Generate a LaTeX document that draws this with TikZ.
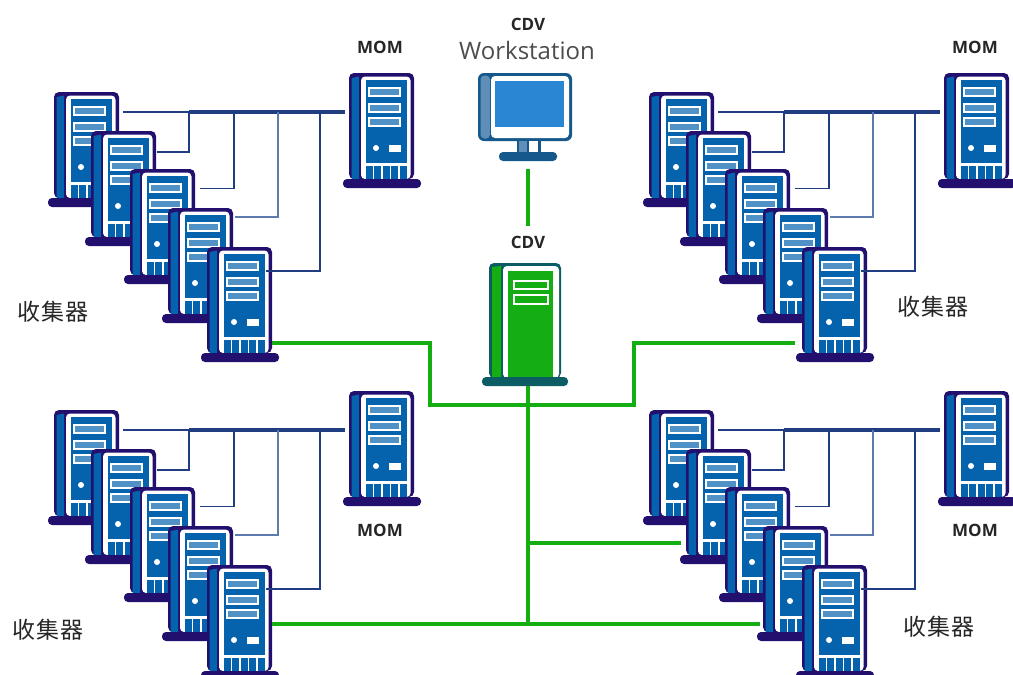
\documentclass[tikz,border=0pt]{standalone}
\usepackage{fontspec}
\setmainfont{Open Sans}
\newfontfamily\cjk[LetterSpace=6]{Noto Sans CJK SC}
\definecolor{srvnavy}{HTML}{230F6E}
\definecolor{srvblue}{HTML}{0562AD}
\definecolor{wirenavy}{HTML}{1F3D80}
\definecolor{wirepale}{HTML}{5F7AAC}
\definecolor{linkgreen}{HTML}{14AE14}
\definecolor{cdvdark}{HTML}{0B5C63}
\definecolor{monedge}{HTML}{15598C}
\definecolor{monside}{HTML}{5F8FB8}
\definecolor{monscreen}{HTML}{2A86D2}
\tikzset{
	busline/.style={draw=wirenavy,line width=3.2pt},
	tapline/.style={draw=wirenavy,line width=1.9pt},
	linkline/.style={draw=linkgreen,line width=3.2pt},
	momlabel/.style={font=\fontsize{17}{17}\selectfont\bfseries,text=black!85},
	collabel/.style={font=\cjk\fontsize{23}{23}\selectfont,text=black!85},
	serverbox/.pic={
		\fill[srvnavy,rounded corners=5pt] (0,106) -- (0,0) -- (65,0) -- (65,106) -- cycle;
		\fill[srvblue] (2.5,106) -- (2.5,5) -- (10,3.5) -- (10,106) -- cycle;
		\fill[white,rounded corners=4pt] (12,106) -- (12,3.5) -- (61.5,3.5) -- (61.5,106) -- cycle;
		\fill[srvblue] (16.5,7) rectangle (58,90);
		\foreach \yy/\hh in {15/8,31/8,45/8}
			\draw[white,line width=2pt,fill=srvblue!70!white] (20,\yy) rectangle ++(31,\hh);
		\fill[white] (27,75) circle (3);
		\fill[white] (40,72) rectangle (52,79);
		\foreach \xx in {16.5,25,33.5,42,50.5}
			\fill[srvblue] (\xx,93) rectangle ++(7,13);
		\fill[srvnavy,rounded corners=4pt] (-6,106) rectangle (72,115);
	}
}

\begin{document}
\begin{tikzpicture}[x=1pt,y=-1pt]
	\useasboundingbox (0,0) rectangle (1013,675);
	\clip (0,0) rectangle (1013,675);
	\foreach \gx/\gy/\gn in {0/0/a,595/0/b,0/318/c,595/318/d}{
		\begin{scope}[shift={(\gx,\gy)}]
			\pic at (54,92) {serverbox};
			\pic at (91,131) {serverbox};
			\pic at (130,169) {serverbox};
			\pic at (168,208) {serverbox};
			\pic at (207,247) {serverbox};
			\pic at (349,73) {serverbox};
			\coordinate (\gn bus0) at (123,112);
			\coordinate (\gn bus1) at (189,112);
			\coordinate (\gn bus2) at (234,112);
			\coordinate (\gn bus3) at (278,112);
			\coordinate (\gn bus4) at (320,112);
			\coordinate (\gn mom) at (345,112);
			\coordinate (\gn s2) at (157,152);
			\coordinate (\gn s3) at (200,188.5);
			\coordinate (\gn s4) at (235,217);
			\coordinate (\gn s5) at (266,271);
			\draw[tapline] (\gn bus0) -- (\gn bus1);
			\draw[busline] (\gn bus1) -- (\gn mom);
			\draw[tapline] (\gn s2) -| (\gn bus1);
			\draw[tapline] (\gn s3) -| (\gn bus2);
			\draw[tapline,draw=wirepale] (\gn s4) -| (\gn bus3);
			\draw[tapline] (\gn s5) -| (\gn bus4);
		\end{scope}
	}
	% workstation
	\fill[monedge,rounded corners=6pt] (478,73) rectangle (572,141);
	\fill[monside,rounded corners=4pt] (480.5,75.5) rectangle (490,138.5);
	\fill[white,rounded corners=4pt] (491,76) rectangle (569,138);
	\fill[monscreen] (495,81) rectangle (564,127);
	\fill[monedge] (517,141) rectangle (541,153);
	\fill[monside] (519,141) rectangle (527,153);
	\fill[white] (529,141) rectangle (538,153);
	\fill[monedge,rounded corners=4pt] (499,152) rectangle (557,161);
	% cdv server
	\fill[cdvdark,rounded corners=5pt] (489,378) -- (489,263) -- (561,263) -- (561,378) -- cycle;
	\fill[linkgreen] (492,378) -- (492,267) -- (501,266) -- (501,378) -- cycle;
	\fill[white,rounded corners=4pt] (503,378) -- (503,266) -- (559,266) -- (559,378) -- cycle;
	\fill[linkgreen] (508,271) rectangle (553,378);
	\draw[white,line width=2pt] (514,281) rectangle (548,289);
	\draw[white,line width=2pt] (514,295) rectangle (548,304);
	\fill[cdvdark,rounded corners=4pt] (482,377) rectangle (568,386);
	% labels
	\node[momlabel] (moma) at (380,47) {MOM};
	\node[momlabel] (momb) at (975,47) {MOM};
	\node[momlabel] (momc) at (380,530) {MOM};
	\node[momlabel] (momd) at (975,530) {MOM};
	\node[momlabel] (wscdv) at (528,24) {CDV};
	\node[font=\fontsize{24}{24}\selectfont,text=black!70] (wstext) at (527,50) {Workstation};
	\node[momlabel] (cdvtext) at (528,242) {CDV};
	\node[collabel] (cola) at (53,312) {收集器};
	\node[collabel] (colb) at (933,307) {收集器};
	\node[collabel] (colc) at (48,630) {收集器};
	\node[collabel] (cold) at (939,627) {收集器};
	% green links
	\coordinate (wsout) at (528,169);
	\coordinate (cdvin) at (528,226);
	\coordinate (cdvout) at (528,386);
	\coordinate (trunk) at (528,405);
	\coordinate (trunkb) at (528,543);
	\coordinate (trunkc) at (528,624);
	\coordinate (aport) at (272,343);
	\coordinate (bport) at (795,343);
	\coordinate (cport) at (272,624);
	\coordinate (dport) at (760,624);
	\coordinate (eport) at (681,543);
	\draw[linkline] (wsout) -- (cdvin);
	\draw[linkline] (cdvout) -- (trunkc);
	\draw[linkline] (aport) -- (430,343) |- (trunk) -- (634,405) |- (bport);
	\draw[linkline] (cport) -- (trunkc) -- (dport);
	\draw[linkline] (trunkb) -- (eport);
\end{tikzpicture}
\end{document}
